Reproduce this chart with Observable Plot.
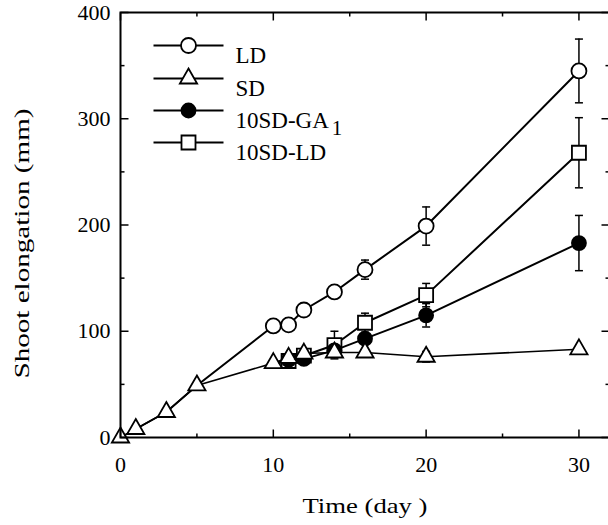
<!DOCTYPE html>
<html><head><meta charset="utf-8">
<script src="https://cdn.jsdelivr.net/npm/d3@7"></script>
<script src="https://cdn.jsdelivr.net/npm/@observablehq/plot@0.6"></script>
<style>body{margin:0;background:#fff} svg text{font-family:"Liberation Serif", Tinos, "Times New Roman", serif !important;}</style>
</head><body><div id="chart"></div>
<script>
// ---- data ----
const seriesNames = ["LD", "SD", "10SD-GA1", "10SD-LD"];
const allDays = [0, 1, 3, 5, 10, 11, 12, 14, 16, 20, 30];
const ldValues = [0, 8, 24, 49, 105, 106, 120, 137, 158, 199, 345];
const ldErr    = [0, 0, 0, 0, 0, 0, 5, 0, 9, 18, 30];
const sdValues = [0, 8, 24, 49, 70, 75, 79, 80, 80, 76, 83];
const sdErr    = [0, 0, 0, 0, 0, 0, 0, 0, 0, 5, 0];
const trtDays  = [10, 11, 12, 14, 16, 20, 30];
const ga1Values = [70, 73, 74, 82, 93, 115, 183];
const ga1Err    = [0, 0, 0, 0, 0, 11, 26];
const ldtValues = [70, 72, 77, 87, 108, 134, 268];
const ldtErr    = [0, 0, 0, 13, 9, 11, 33];
const xMajor = [0, 10, 20, 30];
const xMinor = [5, 15, 25];
const yMajor = [0, 100, 200, 300, 400];
const yMinor = [50, 150, 250, 350];
const xLabel = "Time (day )";
const yLabel = "Shoot elongation (mm)";

// ---- build table ----
function mk(name, days, vals, errs, firstMarkerDay) {
  return days.map((d, i) => ({series: name, day: d, value: vals[i], err: errs[i], marker: d >= firstMarkerDay}));
}
const ld = mk("LD", allDays, ldValues, ldErr, 10);
const sd = mk("SD", allDays, sdValues, sdErr, 0);
const ga1 = mk("10SD-GA1", trtDays, ga1Values, ga1Err, 11);
const ldt = mk("10SD-LD", trtDays, ldtValues, ldtErr, 11);
const all = [...ld, ...sd, ...ga1, ...ldt];
const withErr = all.filter(d => d.err > 0);

// ---- custom symbols ----
const rOf = s => Math.sqrt(s / Math.PI);
const hLine = {draw(c, s) { const r = rOf(s); c.moveTo(-r, 0); c.lineTo(r, 0); }};
const tickUp = {draw(c, s) { const r = rOf(s); c.moveTo(0, 0); c.lineTo(0, -r); }};
const tickDown = {draw(c, s) { const r = rOf(s); c.moveTo(0, 0); c.lineTo(0, r); }};
const tickRight = {draw(c, s) { const r = rOf(s); c.moveTo(0, 0); c.lineTo(r, 0); }};
const tickLeft = {draw(c, s) { const r = rOf(s); c.moveTo(0, 0); c.lineTo(-r, 0); }};

const style = {
  LD: {symbol: "circle", r: 7.5, fill: "white"},
  SD: {symbol: "triangle", r: 6.4, fill: "white"},
  "10SD-GA1": {symbol: "circle", r: 7, fill: "black"},
  "10SD-LD": {symbol: "square", r: 7.9, fill: "white"}
};
const drawOrder = ["LD", "10SD-LD", "10SD-GA1", "SD"];
const legendRowsPx = [45, 78, 110, 142];
const TOP = 12;

const marks = [];
for (const [name, data, w] of [["LD", ld, 2], ["SD", sd, 1.6], ["10SD-GA1", ga1, 2], ["10SD-LD", ldt, 2]]) {
  marks.push(Plot.line(data, {x: "day", y: "value", stroke: "black", strokeWidth: w}));
}
marks.push(Plot.ruleX(withErr, {x: "day", y1: d => d.value - d.err, y2: d => d.value + d.err, stroke: "black", strokeWidth: 1.5}));
marks.push(Plot.dot(withErr, {x: "day", y: d => d.value + d.err, symbol: hLine, r: 4, stroke: "black", strokeWidth: 1.5, fill: "none"}));
marks.push(Plot.dot(withErr, {x: "day", y: d => d.value - d.err, symbol: hLine, r: 4, stroke: "black", strokeWidth: 1.5, fill: "none"}));
for (const name of drawOrder) {
  const st = style[name];
  marks.push(Plot.dot(all.filter(d => d.series === name && d.marker), {
    x: "day", y: "value", symbol: st.symbol, r: st.r, fill: st.fill, stroke: "black", strokeWidth: 1.8
  }));
}
marks.push(Plot.frame({stroke: "black", strokeWidth: 2}));
marks.push(Plot.dot(xMajor, {x: d => d, y: 0, symbol: tickUp, r: 8, stroke: "black", strokeWidth: 1.5}));
marks.push(Plot.dot(xMinor, {x: d => d, y: 0, symbol: tickUp, r: 4, stroke: "black", strokeWidth: 1.5}));
marks.push(Plot.dot(xMajor, {x: d => d, y: 400, symbol: tickDown, r: 8, stroke: "black", strokeWidth: 1.5}));
marks.push(Plot.dot(xMinor, {x: d => d, y: 400, symbol: tickDown, r: 4, stroke: "black", strokeWidth: 1.5}));
marks.push(Plot.dot(yMajor, {x: 0, y: d => d, symbol: tickRight, r: 8, stroke: "black", strokeWidth: 1.5}));
marks.push(Plot.dot(yMinor, {x: 0, y: d => d, symbol: tickRight, r: 4, stroke: "black", strokeWidth: 1.5}));
marks.push(Plot.dot(yMajor, {x: 32, y: d => d, symbol: tickLeft, r: 8, stroke: "black", strokeWidth: 1.5}));
marks.push(Plot.dot(yMinor, {x: 32, y: d => d, symbol: tickLeft, r: 4, stroke: "black", strokeWidth: 1.5}));
marks.push(Plot.axisX({ticks: xMajor, tickSize: 0, tickPadding: 19, label: null, tickFormat: d => d, fontSize: 22}));
marks.push(Plot.axisY({ticks: yMajor, tickSize: 0, tickPadding: 10, label: null, tickFormat: d => d, fontSize: 22}));
marks.push(Plot.text([xLabel], {frameAnchor: "bottom", dy: 75, fontSize: 22, fill: "black"}));
marks.push(Plot.text([yLabel], {frameAnchor: "left", dx: -99, dy: 153.5, rotate: -90, textAnchor: "start", fontSize: 22, fill: "black"}));
seriesNames.forEach((name, i) => {
  const dy = legendRowsPx[i] - TOP;
  const st = style[name];
  marks.push(Plot.dot([0], {frameAnchor: "top-left", dx: 68, dy, symbol: hLine, r: 35, stroke: "black", strokeWidth: 2}));
  marks.push(Plot.dot([0], {frameAnchor: "top-left", dx: 68, dy, symbol: st.symbol, r: st.r, fill: st.fill, stroke: "black", strokeWidth: 1.8}));
  marks.push(Plot.text([name], {frameAnchor: "top-left", dx: 115, dy: dy + 1, textAnchor: "start", fontSize: 23, fill: "black"}));
});

const chart = Plot.plot({
  width: 608, height: 525,
  marginLeft: 120, marginRight: -1, marginTop: TOP, marginBottom: 88,
  x: {domain: [0, 32]},
  y: {domain: [0, 400]},
  style: {fontFamily: "Liberation Serif", fontSize: "22px", color: "black", background: "white"},
  marks
});
document.getElementById("chart").appendChild(chart);

d3.select(chart).selectAll("text").each(function () {
  const t = this.textContent;
  if (t === "10SD-GA1") {
    this.textContent = "10SD-GA";
    d3.select(this).append("tspan").attr("dx", 3).attr("dy", 7).attr("font-size", 21).text("1");
  } else if (t === xLabel) {
    d3.select(this).attr("textLength", 125).attr("lengthAdjust", "spacingAndGlyphs");
  } else if (t === yLabel) {
    d3.select(this).attr("textLength", 270).attr("lengthAdjust", "spacingAndGlyphs");
  }
});
</script></body></html>
